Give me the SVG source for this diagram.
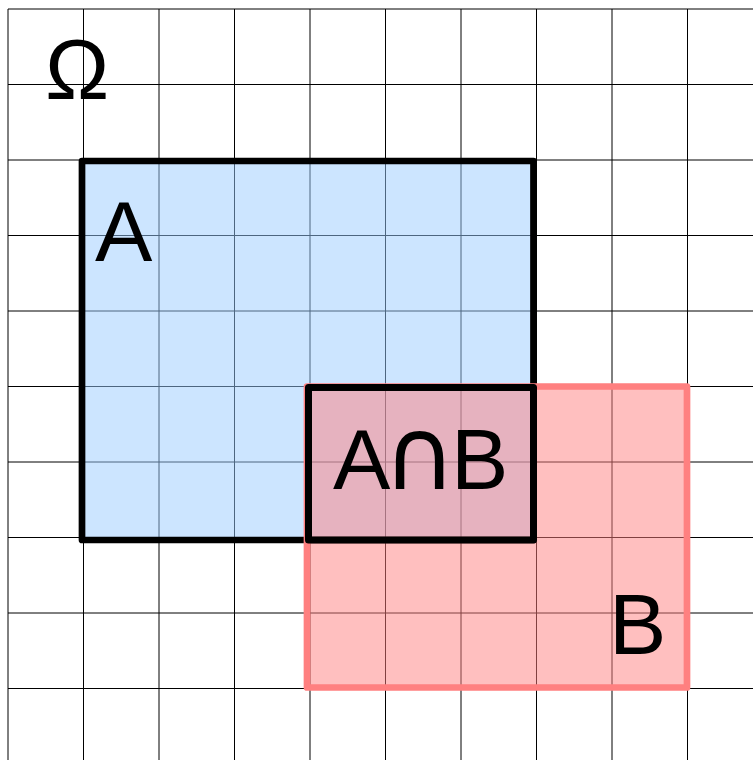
<svg xmlns="http://www.w3.org/2000/svg" width="753" height="760" viewBox="0 0 753 760">
<style>
.grid line{stroke:#000;stroke-width:1}
.lbl{font-family:"Liberation Sans",Arial,"DejaVu Sans",sans-serif;font-size:86px;fill:#000}
.cap{font-family:"DejaVu Sans",sans-serif;font-size:100px}
</style>
<rect x="0" y="0" width="753" height="760" fill="#fff"/>
<g id="grid" class="grid">
<line x1="8" y1="9" x2="8" y2="760"/>
<line x1="83.5" y1="9" x2="83.5" y2="760"/>
<line x1="159" y1="9" x2="159" y2="760"/>
<line x1="234.5" y1="9" x2="234.5" y2="760"/>
<line x1="310" y1="9" x2="310" y2="760"/>
<line x1="385.5" y1="9" x2="385.5" y2="760"/>
<line x1="461" y1="9" x2="461" y2="760"/>
<line x1="536.5" y1="9" x2="536.5" y2="760"/>
<line x1="612" y1="9" x2="612" y2="760"/>
<line x1="687.5" y1="9" x2="687.5" y2="760"/>
<line x1="8" y1="9" x2="753" y2="9"/>
<line x1="8" y1="84.5" x2="753" y2="84.5"/>
<line x1="8" y1="160" x2="753" y2="160"/>
<line x1="8" y1="235.5" x2="753" y2="235.5"/>
<line x1="8" y1="311" x2="753" y2="311"/>
<line x1="8" y1="386.5" x2="753" y2="386.5"/>
<line x1="8" y1="462" x2="753" y2="462"/>
<line x1="8" y1="537.5" x2="753" y2="537.5"/>
<line x1="8" y1="613" x2="753" y2="613"/>
<line x1="8" y1="688.5" x2="753" y2="688.5"/>
</g>
<g id="omega"><text class="lbl" x="45" y="99">Ω</text></g>
<g id="A">
<rect x="82" y="161" width="451.5" height="379" fill="#99ccff" fill-opacity="0.5" stroke="#000" stroke-width="6.7" stroke-linejoin="round"/>
<text class="lbl" x="95" y="261">A</text>
</g>
<g id="B">
<rect x="307" y="386.5" width="380" height="301" fill="#ff8080" fill-opacity="0.5" stroke="#ff8080" stroke-width="6.7" stroke-linejoin="round"/>
<text class="lbl" x="609" y="654">B</text>
</g>
<g id="AnB">
<rect x="308.5" y="387.5" width="225" height="152.5" fill="none" stroke="#000" stroke-width="7" stroke-linejoin="round"/>
<text class="lbl" x="333" y="489">A<tspan class="cap" x="419.5" text-anchor="middle">∩</tspan><tspan x="451" text-anchor="start">B</tspan></text>
</g>
<g id="connectors"/>
</svg>
